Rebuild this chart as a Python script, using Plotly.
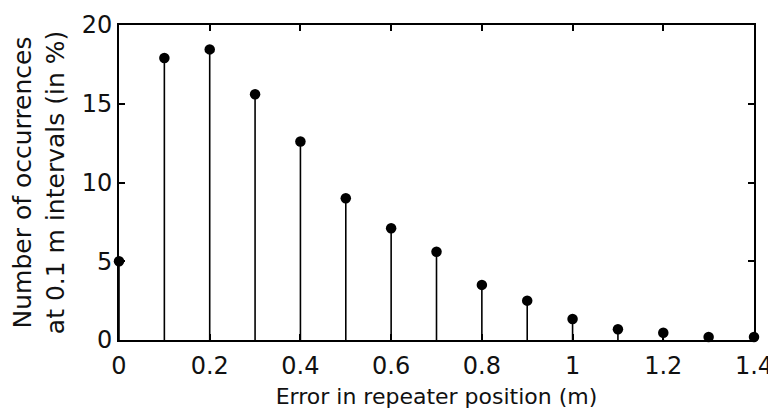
import plotly.graph_objects as go

error_m = [0.0, 0.1, 0.2, 0.3, 0.4, 0.5, 0.6, 0.7, 0.8, 0.9, 1.0, 1.1, 1.2, 1.3, 1.4]
occurrence_pct = [5.0, 17.9, 18.45, 15.6, 12.6, 9.0, 7.1, 5.6, 3.5, 2.5, 1.33, 0.68, 0.46, 0.19, 0.19]
x_ticks = [0, 0.2, 0.4, 0.6, 0.8, 1.0, 1.2, 1.4]
x_tick_labels = ["0", "0.2", "0.4", "0.6", "0.8", "1", "1.2", "1.4"]
y_ticks = [0, 5, 10, 15, 20]

stem_x, stem_y = [], []
for xv, yv in zip(error_m, occurrence_pct):
    stem_x += [xv, xv, None]
    stem_y += [0, yv, None]

fig = go.Figure()
fig.add_trace(go.Scatter(x=stem_x, y=stem_y, mode="lines",
                         line=dict(color="black", width=1.6),
                         hoverinfo="skip", showlegend=False, cliponaxis=False))
fig.add_trace(go.Scatter(x=error_m, y=occurrence_pct, mode="markers",
                         marker=dict(color="black", size=10.5),
                         showlegend=False, cliponaxis=False))

FONT = "DejaVu Sans"
tickfont = dict(family=FONT, size=24, color="#111111")
fig.update_layout(
    width=768, height=402,
    margin=dict(l=111, r=22, t=17, b=70),
    plot_bgcolor="white", paper_bgcolor="white",
    font=dict(family=FONT, size=22, color="#111111"),
    xaxis=dict(range=[0, 1.4], tickvals=x_ticks, ticktext=x_tick_labels,
               ticks="inside", ticklen=6, tickwidth=1.5, tickcolor="black",
               tickfont=tickfont, automargin=False, ticklabelstandoff=3,
               showline=True, linecolor="black", linewidth=1.6, mirror="ticks",
               showgrid=False, zeroline=False,
               title=dict(text="Error in repeater position (m)", standoff=10,
                          font=dict(family=FONT, size=22, color="#111111"))),
    yaxis=dict(range=[0, 20], tickvals=y_ticks,
               ticks="inside", ticklen=6, tickwidth=1.5, tickcolor="black",
               tickfont=tickfont, automargin=False,
               showline=True, linecolor="black", linewidth=1.6, mirror="ticks",
               showgrid=False, zeroline=False,
               title=dict(text="Number of occurrences<br>at 0.1 m intervals (in %)", standoff=12,
                          font=dict(family=FONT, size=25, color="#111111"))),
)
fig.write_html("out.html")
